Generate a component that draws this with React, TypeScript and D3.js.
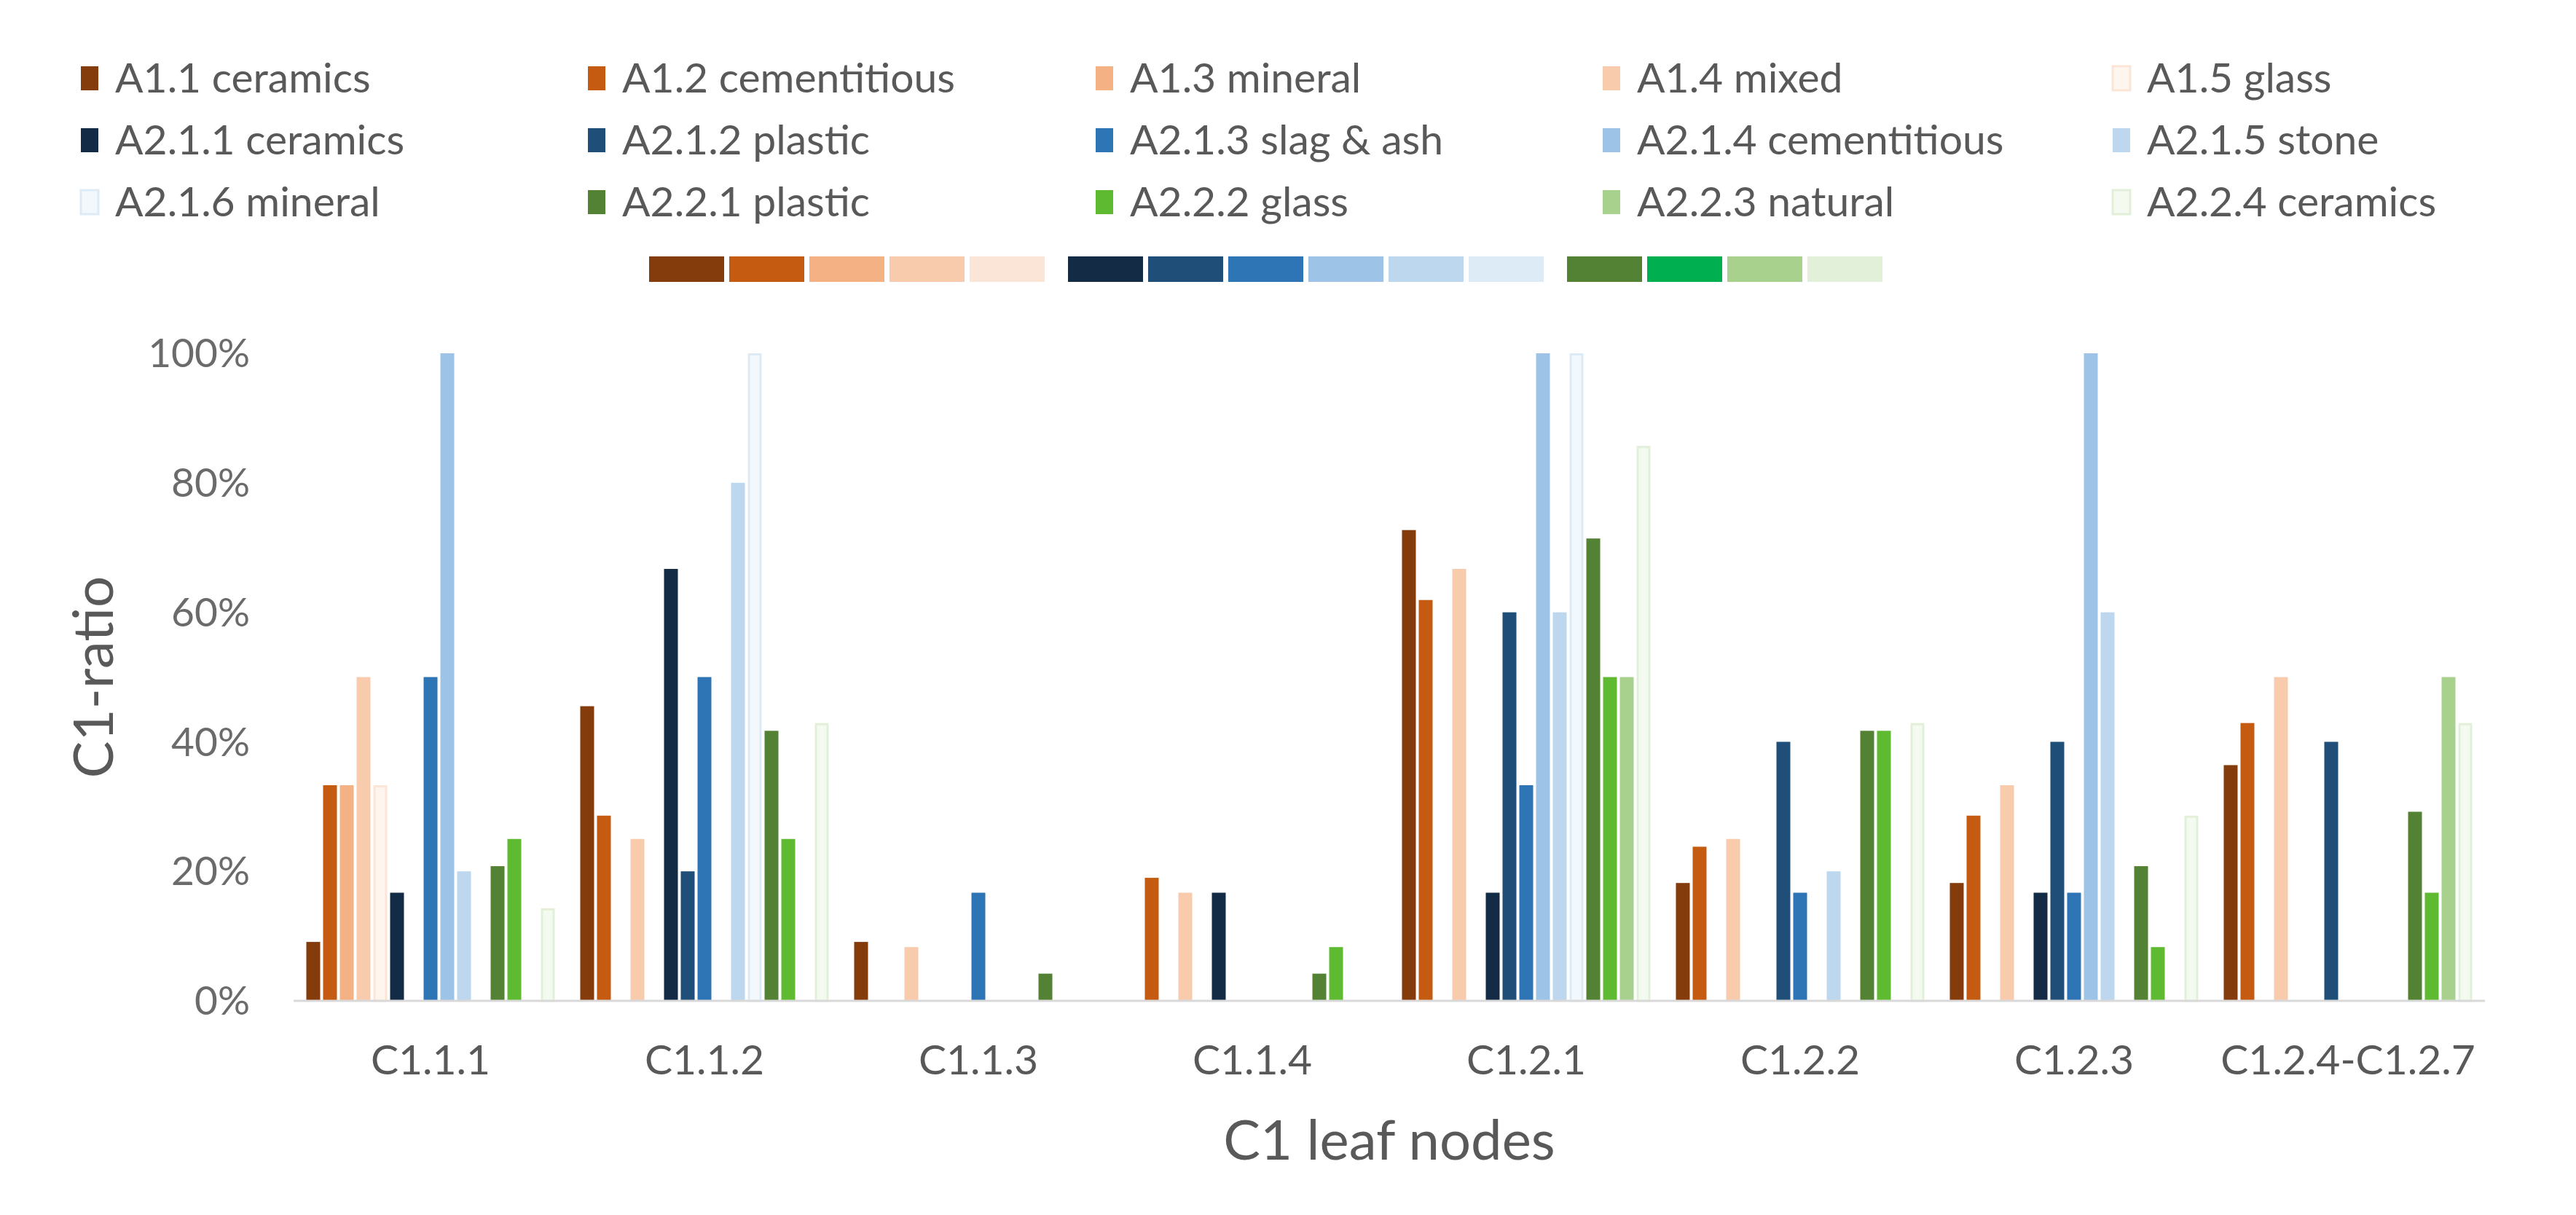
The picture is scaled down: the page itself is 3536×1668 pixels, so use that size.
import React from "react";
import * as d3 from "d3";

// ---------- data ----------
const categories = ["C1.1.1", "C1.1.2", "C1.1.3", "C1.1.4", "C1.2.1", "C1.2.2", "C1.2.3", "C1.2.4-C1.2.7"];

const seriesNames = [
  "A1.1 ceramics", "A1.2 cementitious", "A1.3 mineral", "A1.4 mixed", "A1.5 glass",
  "A2.1.1 ceramics", "A2.1.2 plastic", "A2.1.3 slag & ash", "A2.1.4 cementitious", "A2.1.5 stone",
  "A2.1.6 mineral", "A2.2.1 plastic", "A2.2.2 glass", "A2.2.3 natural", "A2.2.4 ceramics",
];

// values in % per category (order of `categories`)
const a11 = [9.1, 45.5, 9.1, 0, 72.7, 18.2, 18.2, 36.4];
const a12 = [33.3, 28.6, 0, 19.0, 61.9, 23.8, 28.6, 42.9];
const a13 = [33.3, 0, 0, 0, 0, 0, 0, 0];
const a14 = [50, 25, 8.3, 16.7, 66.7, 25, 33.3, 50];
const a15 = [33.3, 0, 0, 0, 0, 0, 0, 0];
const a211 = [16.7, 66.7, 0, 16.7, 16.7, 0, 16.7, 0];
const a212 = [0, 20, 0, 0, 60, 40, 40, 40];
const a213 = [50, 50, 16.7, 0, 33.3, 16.7, 16.7, 0];
const a214 = [100, 0, 0, 0, 100, 0, 100, 0];
const a215 = [20, 80, 0, 0, 60, 20, 60, 0];
const a216 = [0, 100, 0, 0, 100, 0, 0, 0];
const a221 = [20.8, 41.7, 4.2, 4.2, 71.4, 41.7, 20.8, 29.2];
const a222 = [25, 25, 0, 8.3, 50, 41.7, 8.3, 16.7];
const a223 = [0, 0, 0, 0, 50, 0, 0, 50];
const a224 = [14.3, 42.9, 0, 0, 85.7, 42.9, 28.6, 42.9];

const seriesValues = [a11, a12, a13, a14, a15, a211, a212, a213, a214, a215, a216, a221, a222, a223, a224];

const yTicks = [0, 20, 40, 60, 80, 100];

// ---------- styles ----------
const seriesColors = [
  "#843C0C", "#C55A11", "#F4B183", "#F8CBAD", "#FBE5D6",
  "#132B44", "#1F4E79", "#2E75B6", "#9DC3E6", "#BDD7EE",
  "#DDEBF7", "#548235", "#5EBB31", "#A9D18E", "#E2F0D9",
];
const seriesInner = [
  null, null, null, null, "#FEF5EE",
  null, null, null, null, null,
  "#F3F8FD", null, null, null, "#F4FAF0",
];
const stripColors = [
  "#843C0C", "#C55A11", "#F4B183", "#F8CBAD", "#FBE5D6",
  "#132B44", "#1F4E79", "#2E75B6", "#9DC3E6", "#BDD7EE", "#DDEBF7",
  "#548235", "#00B050", "#A9D18E", "#E2F0D9",
];
const stripGroup = [0, 0, 0, 0, 0, 1, 1, 1, 1, 1, 1, 2, 2, 2, 2];

const W = 3536;
const H = 1668;
const FONT = "Lato, 'Open Sans', sans-serif";
const TEXT = "#595959";

export default function App() {
  const plotLeft = 403;
  const plotRight = 3411;
  const plotTop = 485;
  const plotBottom = 1374;

  const x0 = d3.scaleBand<string>().domain(categories).range([plotLeft, plotRight]).padding(0);
  const x1 = d3
    .scaleBand<string>()
    .domain(seriesNames)
    .range([0, x0.bandwidth()])
    .paddingInner(0.174)
    .paddingOuter(0.76);
  const y = d3.scaleLinear().domain([0, 100]).range([plotBottom, plotTop]);

  // legend layout
  const legendCols = [111, 807, 1504, 2200, 2900];
  const legendBaselines = [127, 212, 297];

  // strip layout
  const stripX = d3.scaleLinear().domain([0, 1]).range([891, 1001]);

  return (
    <svg
      width={W}
      height={H}
      viewBox={`0 0 ${W} ${H}`}
      style={{ position: "absolute", left: 0, top: 0, display: "block", background: "#fff" }}
      fontFamily={FONT}
    >
      <rect x={0} y={0} width={W} height={H} fill="#fff" />

      {/* legend */}
      {seriesNames.map((name, i) => {
        const col = i % 5;
        const row = Math.floor(i / 5);
        const lx = legendCols[col];
        const by = legendBaselines[row];
        const inner = seriesInner[i];
        return (
          <g key={name}>
            <rect
              x={lx}
              y={by - 36}
              width={24}
              height={33}
              fill={inner ?? seriesColors[i]}
              stroke={inner ? seriesColors[i] : "none"}
              strokeWidth={inner ? 3 : 0}
            />
            <text x={lx + 47} y={by} fontSize={57} fill={TEXT}>
              {name}
            </text>
          </g>
        );
      })}

      {/* colour strip */}
      {stripColors.map((c, i) => (
        <rect
          key={"s" + i}
          x={stripX(i) + stripGroup[i] * 25}
          y={352}
          width={103}
          height={35}
          fill={c}
        />
      ))}

      {/* y tick labels */}
      {yTicks.map((t) => (
        <text
          key={"yt" + t}
          x={343}
          y={y(t)}
          dy="0.35em"
          textAnchor="end"
          fontSize={55}
          fill="#6b6b6b"
        >
          {t + "%"}
        </text>
      ))}

      {/* bars */}
      {categories.map((cat, ci) => (
        <g key={cat} transform={`translate(${x0(cat)},0)`}>
          {seriesNames.map((s, si) => {
            const v = seriesValues[si][ci];
            if (!v) return null;
            const inner = seriesInner[si];
            const bx = x1(s) as number;
            const bw = x1.bandwidth();
            const top = y(v);
            const h = y(0) - top;
            return inner ? (
              <rect
                key={s}
                x={bx + 1.5}
                y={top + 1.5}
                width={bw - 3}
                height={h - 1.5}
                fill={inner}
                stroke={seriesColors[si]}
                strokeWidth={3}
              />
            ) : (
              <rect key={s} x={bx} y={top} width={bw} height={h} fill={seriesColors[si]} />
            );
          })}
        </g>
      ))}

      {/* x axis line */}
      <line x1={plotLeft} x2={plotRight} y1={plotBottom} y2={plotBottom} stroke="#D9D9D9" strokeWidth={3} />

      {/* category labels */}
      {categories.map((cat) => (
        <text
          key={"xl" + cat}
          x={(x0(cat) as number) + x0.bandwidth() / 2}
          y={1475}
          textAnchor="middle"
          fontSize={57}
          fill={TEXT}
        >
          {cat}
        </text>
      ))}

      {/* axis titles */}
      <text x={(plotLeft + plotRight) / 2} y={1592} textAnchor="middle" fontSize={76} fill={TEXT}>
        C1 leaf nodes
      </text>
      <text
        transform={`translate(155, ${(plotTop + plotBottom) / 2}) rotate(-90)`}
        textAnchor="middle"
        fontSize={76}
        fill={TEXT}
      >
        C1-ratio
      </text>
    </svg>
  );
}
